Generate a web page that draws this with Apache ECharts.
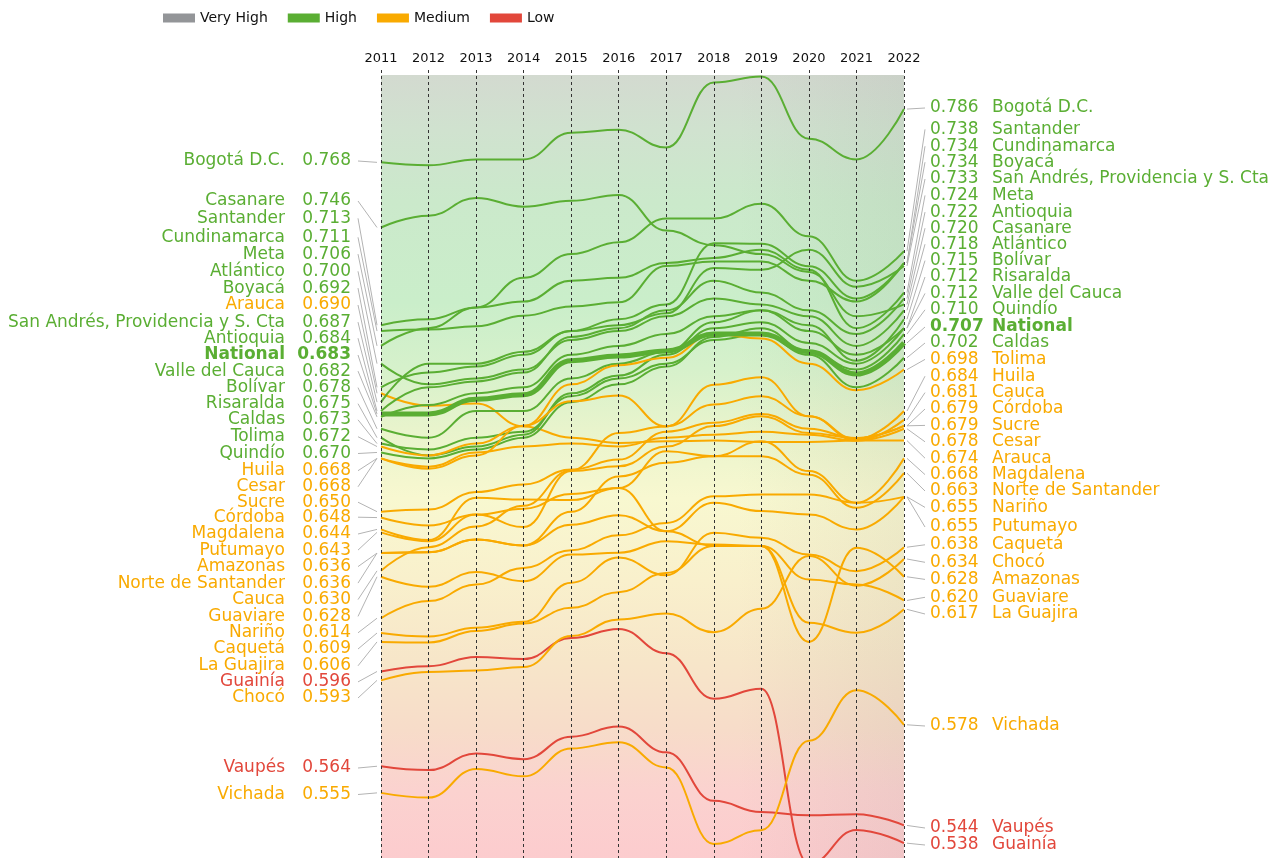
<!DOCTYPE html>
<html><head><meta charset="utf-8">
<script src="https://cdn.jsdelivr.net/npm/echarts@6/dist/echarts.min.js"></script>
<style>html,body{margin:0;padding:0;background:#fff}#c{width:1276px;height:858px}</style>
</head><body><div id="c"></div>
<script>
// ---------- DATA ----------
const years = ['2011','2012','2013','2014','2015','2016','2017','2018','2019','2020','2021','2022'];
const classNames = ['Very High','High','Medium','Low'];
const classLimits = [0.8, 0.7, 0.55]; // lower bounds of Very High, High, Medium

const bogota      = [0.768,0.767,0.769,0.769,0.778,0.779,0.773,0.795,0.797,0.776,0.769,0.786];
const casanare    = [0.746,0.750,0.756,0.753,0.755,0.757,0.745,0.740,0.737,0.731,0.716,0.720];
const santander   = [0.713,0.715,0.719,0.729,0.737,0.741,0.749,0.749,0.754,0.743,0.728,0.738];
const cundinamarca= [0.711,0.7115,0.7126,0.7162,0.7193,0.7207,0.733,0.7345,0.7345,0.728,0.721,0.734];
const meta        = [0.706,0.712,0.719,0.721,0.728,0.729,0.734,0.7357,0.7385,0.7317,0.712,0.724];
const atlantico   = [0.700,0.693,0.695,0.698,0.708,0.711,0.716,0.722,0.720,0.716,0.706,0.718];
const boyaca      = [0.692,0.697,0.699,0.703,0.711,0.715,0.720,0.7407,0.7405,0.7329,0.722,0.734];
const arauca      = [0.690,0.6858,0.6865,0.6788,0.675,0.6732,0.6738,0.674,0.6735,0.6735,0.674,0.674];
const sanAndres   = [0.687,0.700,0.700,0.704,0.711,0.713,0.717,0.7323,0.7317,0.7385,0.726,0.733];
const antioquia   = [0.684,0.692,0.694,0.697,0.709,0.712,0.718,0.728,0.724,0.718,0.710,0.722];
const national    = [0.683,0.683,0.688,0.6895,0.701,0.7026,0.7043,0.710,0.710,0.704,0.6965,0.707];
const valle       = [0.682,0.686,0.690,0.692,0.703,0.706,0.710,0.716,0.718,0.711,0.703,0.712];
const bolivar     = [0.678,0.675,0.684,0.684,0.695,0.700,0.704,0.714,0.718,0.713,0.701,0.715];
const risaralda   = [0.675,0.669,0.672,0.676,0.690,0.696,0.703,0.712,0.714,0.707,0.700,0.712];
const caldas      = [0.673,0.671,0.675,0.677,0.689,0.695,0.700,0.708,0.710,0.703,0.692,0.702];
const tolima      = [0.672,0.669,0.673,0.679,0.693,0.6995,0.702,0.710,0.7085,0.700,0.691,0.698];
const quindio     = [0.670,0.668,0.671,0.675,0.687,0.693,0.699,0.709,0.712,0.704,0.698,0.710];
const huila       = [0.668,0.6645,0.669,0.679,0.6873,0.6892,0.6788,0.6929,0.6954,0.6822,0.6745,0.684];
const cesar       = [0.668,0.6652,0.670,0.672,0.673,0.672,0.675,0.676,0.677,0.676,0.674,0.678];
const sucre       = [0.650,0.6507,0.6566,0.6592,0.6642,0.6676,0.677,0.680,0.683,0.678,0.6748,0.679];
const cordoba     = [0.648,0.6453,0.649,0.6448,0.6637,0.6653,0.672,0.6789,0.6822,0.6766,0.6749,0.679];
const magdalena   = [0.644,0.6404,0.6547,0.6541,0.6539,0.658,0.6704,0.6687,0.6738,0.6637,0.653,0.668];
const putumayo    = [0.643,0.640,0.649,0.651,0.656,0.658,0.6434,0.653,0.6502,0.649,0.644,0.655];
const amazonas    = [0.636,0.6363,0.6406,0.6386,0.6456,0.6488,0.6434,0.6384,0.6384,0.606,0.6378,0.628];
const norte       = [0.636,0.6363,0.6406,0.6386,0.650,0.6619,0.6665,0.6687,0.6687,0.6625,0.6513,0.663];
const cauca       = [0.630,0.638,0.645,0.652,0.664,0.6766,0.6788,0.6862,0.689,0.6822,0.674,0.681];
const guaviare    = [0.628,0.6246,0.6296,0.6265,0.6355,0.6361,0.640,0.6389,0.6384,0.6271,0.6254,0.620];
const narino      = [0.614,0.6198,0.6254,0.631,0.637,0.642,0.6462,0.6552,0.6558,0.6558,0.653,0.655];
const caqueta     = [0.609,0.6078,0.6108,0.6128,0.626,0.6345,0.6285,0.6429,0.6412,0.6355,0.6299,0.638];
const guajira     = [0.606,0.6058,0.6097,0.6122,0.6175,0.6228,0.6293,0.6384,0.6384,0.6125,0.6091,0.617];
const guainia     = [0.596,0.5978,0.6009,0.6002,0.6073,0.6104,0.6022,0.5868,0.5902,0.531,0.5425,0.538];
const choco       = [0.593,0.5958,0.5963,0.5975,0.608,0.6136,0.6156,0.6093,0.6172,0.635,0.625,0.634];
const vaupes      = [0.564,0.5627,0.5683,0.5664,0.574,0.5774,0.5687,0.5523,0.5485,0.5474,0.5478,0.544];
const vichada     = [0.555,0.5534,0.5631,0.5606,0.570,0.5721,0.5636,0.5377,0.5424,0.5726,0.5897,0.578];

const names = ['Bogotá D.C.','Casanare','Santander','Cundinamarca','Meta','Atlántico','Boyacá','Arauca',
  'San Andrés, Providencia y S. Cta','Antioquia','National','Valle del Cauca','Bolívar','Risaralda','Caldas',
  'Tolima','Quindío','Huila','Cesar','Sucre','Córdoba','Magdalena','Putumayo','Amazonas','Norte de Santander',
  'Cauca','Guaviare','Nariño','Caquetá','La Guajira','Guainía','Chocó','Vaupés','Vichada'];
const seriesValues = [bogota,casanare,santander,cundinamarca,meta,atlantico,boyaca,arauca,sanAndres,antioquia,
  national,valle,bolivar,risaralda,caldas,tolima,quindio,huila,cesar,sucre,cordoba,magdalena,putumayo,amazonas,
  norte,cauca,guaviare,narino,caqueta,guajira,guainia,choco,vaupes,vichada];
// class shown for the 2011 label (as in the source)
const leftClass = ['High','High','High','High','High','High','High','Medium','High','High','High','High','High',
  'High','High','High','High','Medium','Medium','Medium','Medium','Medium','Medium','Medium','Medium','Medium',
  'Medium','Medium','Medium','Medium','Low','Medium','Low','Medium'];

// ---------- LAYOUT (label slots, px) ----------
const leftLabelY = [161,201,218.3,237.3,254.1,271.3,288.1,305,322.1,338.2,355,371.1,387.6,403.7,419.8,436.7,
  453.5,470.7,486.8,502.2,517.2,534,550.1,566.6,583.1,599.6,616.4,632.8,649,665.8,681.9,698,768,794.5];
const rightLabelY = [108,228.2,129.4,146.2,195.4,244.2,162.2,458.2,179,212.1,327,293.4,260.6,277,343,359.4,
  309.8,376.2,441.8,425.4,409,474.6,527,579.4,491,392.6,597.3,507.4,544.8,614,845,562.3,828,726];

// ---------- STYLE ----------
const FONT = 'DejaVu Sans';
const classColor = {'Very High':'#939598','High':'#5aae33','Medium':'#f9aa00','Low':'#e2473b'};
function classOf(v){ return v>=classLimits[0]?'Very High':v>=classLimits[1]?'High':v>=classLimits[2]?'Medium':'Low'; }

const chart = echarts.init(document.getElementById('c'));
const Y_MIN = 0.533, Y_MAX = 0.7992;

const bgGradient = new echarts.graphic.LinearGradient(0,0,0,1,[
  {offset:0.00,color:'#d3dad0'},{offset:0.07,color:'#d0e2cf'},{offset:0.16,color:'#cbe9cb'},
  {offset:0.29,color:'#caeeca'},{offset:0.375,color:'#d6f1cb'},{offset:0.455,color:'#e9f4cc'},
  {offset:0.54,color:'#f8f8d0'},{offset:0.645,color:'#f9f0cc'},{offset:0.747,color:'#f7e6c9'},
  {offset:0.837,color:'#f7dcc9'},{offset:0.913,color:'#fbd2cf'},{offset:1,color:'#fcccce'}]);
const shadeGradient = new echarts.graphic.LinearGradient(0,0,1,0,[
  {offset:0,color:'rgba(120,120,120,0)'},{offset:0.68,color:'rgba(120,120,120,0)'},
  {offset:1,color:'rgba(120,120,120,0.09)'}]);

const series = [];
classNames.forEach((c,i)=>{
  const s = {name:c,type:'line',data:[],color:classColor[c],itemStyle:{color:classColor[c]},lineStyle:{color:classColor[c]},silent:true,z:-5,zlevel:0};
  if(i===0){
    s.markArea = {silent:true, z:-5, itemStyle:{opacity:1},
      data:[
        [{xAxis:'2011',yAxis:0.7975,itemStyle:{color:bgGradient}},{xAxis:'2022',yAxis:Y_MIN}],
        [{xAxis:'2011',yAxis:0.7975,itemStyle:{color:shadeGradient}},{xAxis:'2022',yAxis:Y_MIN}]
      ]};
  }
  series.push(s);
});
names.forEach((n,i)=>{
  const vals = seriesValues[i];
  const col = classColor[classOf(vals[vals.length-1])];
  const isNat = n==='National';
  series.push({name:n,type:'line',data:vals,smooth:0.45,smoothMonotone:'x',symbol:'none',showSymbol:false,
    silent:true,z:isNat?4:3,lineStyle:{color:col,width:isNat?5:2},itemStyle:{color:col},emphasis:{disabled:true}});
});

chart.setOption({
  animation:false,
  legend:{data:classNames,top:6,left:158,icon:'rect',itemWidth:32,itemHeight:9,itemGap:20,selectedMode:false,
    textStyle:{fontFamily:FONT,fontSize:14,color:'#111'}},
  grid:{left:381,right:372,top:70,bottom:0,outerBoundsMode:'none',containLabel:false},
  xAxis:{type:'category',data:years,boundaryGap:false,position:'top',z:10,
    axisLine:{show:false},axisTick:{show:false},
    axisLabel:{color:'#111',fontFamily:FONT,fontSize:13,margin:5},
    splitLine:{show:true,lineStyle:{color:'#333',width:1,type:[3,3]}}},
  yAxis:{type:'value',min:Y_MIN,max:Y_MAX,show:false,splitLine:{show:false}},
  series:series
});

// ---------- LABELS ----------
const graphics = [];
names.forEach((n,i)=>{
  const vals = seriesValues[i];
  const isNat = n==='National';
  const w = isNat?'bold':'normal';
  const p0 = chart.convertToPixel({gridIndex:0},[0,vals[0]]);
  const p1 = chart.convertToPixel({gridIndex:0},[years.length-1,vals[vals.length-1]]);
  const lc = classColor[leftClass[i]];
  const rc = classColor[classOf(vals[vals.length-1])];
  const ly = leftLabelY[i], ry = rightLabelY[i];
  const font = w+' 17px "'+FONT+'"';
  graphics.push({type:'text',silent:true,style:{text:n,x:285,y:ly,fill:lc,font:font,textAlign:'right',textVerticalAlign:'middle',align:'right',verticalAlign:'middle'}});
  graphics.push({type:'text',silent:true,style:{text:vals[0].toFixed(3),x:351,y:ly,fill:lc,font:font,textAlign:'right',textVerticalAlign:'middle',align:'right',verticalAlign:'middle'}});
  graphics.push({type:'polyline',silent:true,shape:{points:[[358,ly],[377,p0[1]]]},style:{stroke:'#b3b3b3',lineWidth:1,fill:null}});
  graphics.push({type:'text',silent:true,style:{text:vals[vals.length-1].toFixed(3),x:930,y:ry,fill:rc,font:font,textAlign:'left',textVerticalAlign:'middle',align:'left',verticalAlign:'middle'}});
  graphics.push({type:'text',silent:true,style:{text:n,x:992,y:ry,fill:rc,font:font,textAlign:'left',textVerticalAlign:'middle',align:'left',verticalAlign:'middle'}});
  graphics.push({type:'polyline',silent:true,shape:{points:[[907,p1[1]],[925,ry]]},style:{stroke:'#b3b3b3',lineWidth:1,fill:null}});
});
chart.setOption({graphic:graphics});
</script></body></html>
